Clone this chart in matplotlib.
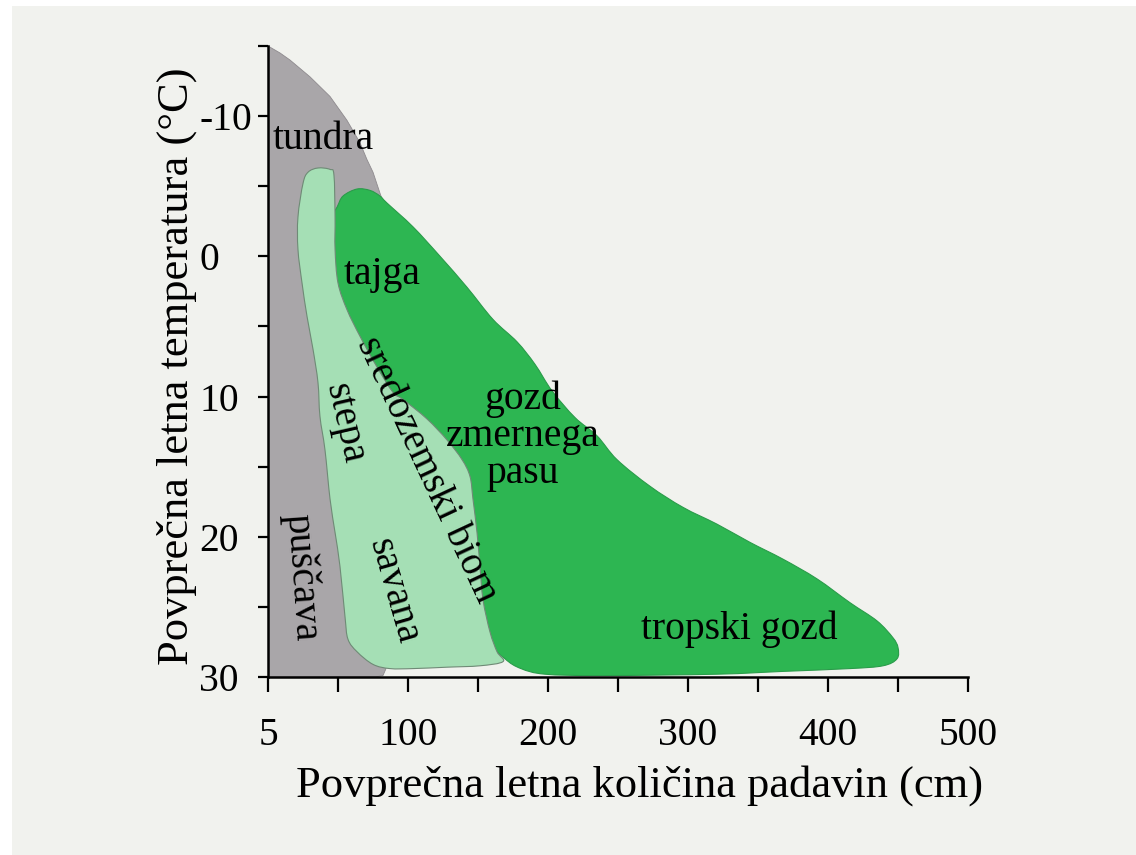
import matplotlib
matplotlib.use("Agg")
import matplotlib.pyplot as plt
from matplotlib.patches import Polygon, Rectangle, PathPatch
from matplotlib.path import Path

plt.rcParams['font.family'] = ['Liberation Serif', 'DejaVu Serif']

# obrisi biomov: padavine (cm), temperatura (°C)
siva_p = [0, 8.6, 15.7, 30.0, 44.3, 56.4, 65.7, 70.7, 75.0, 80.0, 84.3,
          65.7, 44.3, 51.4, 65.7, 80.0, 84.3, 82.1, 76.4, 0]
siva_t = [-15, -14.5, -14.0, -12.8, -11.4, -9.7, -8.1, -6.9, -6.0, -4.5, -3.3,
          0.2, 6.6, 17.3, 27.3, 28.6, 29.4, 29.9, 30, 30]

svetla_p = [21.4, 25.0, 28.6, 35.7, 44.3, 47.1, 47.9, 47.9, 50.0, 56.4, 65.7,
            77.9, 89.3, 96.4, 113.6, 127.9, 138.6, 144.3, 146.4, 149.3, 151.4,
            153.6, 158.6, 163.6, 167.9, 151.4, 127.9, 103.6, 87.1, 75.0, 63.6,
            57.1, 55.0, 51.4, 47.9, 44.3, 40.7, 37.1, 35.7, 32.1, 27.9, 24.3, 21.4]
svetla_t = [-2.8, -5.2, -6.0, -6.3, -6.2, -5.8, -2.8, -0.5, 1.9, 3.8, 5.7,
            7.9, 9.7, 10.2, 11.6, 13.1, 14.5, 15.7, 17.3, 19.7, 22.1,
            24.5, 26.8, 28.2, 28.9, 29.2, 29.3, 29.4, 29.4, 29.1, 28.2,
            27.3, 25.7, 22.1, 19.7, 17.3, 13.8, 11.4, 9.0, 6.6, 4.3, 1.9, -0.5]

temna_p = [49.3, 53.6, 63.6, 72.9, 80.0, 85.0, 103.6, 122.9, 142.1, 160.7, 177.9,
           190.7, 202.9, 219.3, 235.0, 249.3, 272.9, 296.4, 320.7, 344.3, 367.9,
           392.1, 415.7, 435.0, 446.4, 450.0, 449.3, 439.3, 415.7, 367.9, 320.7,
           237.1, 197.9, 180.7, 169.3, 157.1, 150.0, 142.9, 133.6, 108.6, 72.9,
           51.4, 44.3, 42.9]
temna_t = [-3.5, -4.3, -4.8, -4.7, -4.3, -3.8, -2.1, 0.0, 2.2, 4.5, 6.1,
           7.7, 9.6, 11.5, 12.8, 14.5, 16.4, 17.9, 19.1, 20.4, 21.6,
           23.0, 24.7, 26.0, 27.2, 27.9, 28.7, 29.2, 29.4, 29.6, 29.8,
           29.9, 29.8, 29.4, 28.7, 27.3, 23.7, 18.8, 15.2, 12.3, 8.4,
           4.5, 0.9, -2.2]

# napisi biomov
napisi = ['tundra', 'tajga', 'stepa', 'sredozemski biom', 'gozd\nzmernega\npasu',
          'puščava', 'savana', 'tropski gozd']
napisi_p = [39.6, 81.8, 55.0, 113.6, 182.0, 24.3, 89.3, 337.0]
napisi_t = [-8.3, 1.3, 11.9, 15.2, 12.8, 22.9, 23.9, 26.6]
napisi_rot = [0, 0, -77, -65, 0, -86, -74, 0]

x_ticks = [0, 100, 200, 300, 400, 500]
x_labels = ['5', '100', '200', '300', '400', '500']
x_minor = [50, 150, 250, 350, 450]
y_ticks = [-10, 0, 10, 20, 30]
y_labels = ['-10', '0', '10', '20', '30']
y_minor = [-15, -5, 5, 15, 25]


def gladek_obris(xs, ys):
    "Zaprta krivulja skozi tocke obrisa (Catmull-Rom kot Bezier)."
    pts = list(zip(xs, ys))
    n = len(pts)
    verts = [pts[0]]
    codes = [Path.MOVETO]
    for i in range(n):
        p0, p1 = pts[i - 1], pts[i]
        p2, p3 = pts[(i + 1) % n], pts[(i + 2) % n]
        c1 = (p1[0] + (p2[0] - p0[0]) / 6, p1[1] + (p2[1] - p0[1]) / 6)
        c2 = (p2[0] - (p3[0] - p1[0]) / 6, p2[1] - (p3[1] - p1[1]) / 6)
        verts += [c1, c2, p2]
        codes += [Path.CURVE4] * 3
    verts.append(pts[0])
    codes.append(Path.CLOSEPOLY)
    return Path(verts, codes)


fig = plt.figure(figsize=(11.36, 8.55), dpi=100, facecolor='white')
fig.patches.append(Rectangle((12 / 1136, 0), 1, 1 - 6 / 855, transform=fig.transFigure,
                             facecolor='#f1f2ee', edgecolor='none', zorder=-10))
ax = fig.add_axes([268 / 1136, 1 - 677 / 855, 700 / 1136, 631 / 855])
ax.patch.set_visible(False)

ax.add_patch(Polygon(list(zip(siva_p, siva_t)), closed=True, facecolor='#a9a6a9',
                     edgecolor='#8e8a8e', linewidth=0.6, zorder=1, joinstyle='round'))
ax.add_patch(PathPatch(gladek_obris(temna_p, temna_t), facecolor='#2db652',
                       edgecolor='#2a9c4a', linewidth=0.8, zorder=2))
ax.add_patch(PathPatch(gladek_obris(svetla_p, svetla_t), facecolor='#a5dfb5',
                       edgecolor='#6f8a76', linewidth=0.8, zorder=3))

for txt, p, t, r in zip(napisi, napisi_p, napisi_t, napisi_rot):
    ax.text(p, t, txt, rotation=r, ha='center', va='center', fontsize=28.5,
            color='black', zorder=5, linespacing=1.0)

ax.set_xlim(0, 500)
ax.set_ylim(30, -15)

ax.set_xticks(x_ticks)
ax.set_xticklabels(x_labels)
ax.set_xticks(x_minor, minor=True)
ax.set_yticks(y_ticks)
ax.set_yticklabels(y_labels)
ax.set_yticks(y_minor, minor=True)

for s in ['top', 'right']:
    ax.spines[s].set_visible(False)
for s in ['left', 'bottom']:
    ax.spines[s].set_linewidth(1.8)
    ax.spines[s].set_zorder(6)

ax.tick_params(axis='x', which='both', direction='out', length=11, width=1.6,
               labelsize=28.5, pad=18)
ax.tick_params(axis='y', which='both', direction='out', length=7.5, width=1.6,
               labelsize=28.5, pad=42)
for lbl in ax.get_yticklabels():
    lbl.set_horizontalalignment('left')

ax.set_xlabel('Povprečna letna količina padavin (cm)', fontsize=32)
ax.xaxis.set_label_coords((640 - 268) / 700, -0.140)
ax.set_ylabel('Povprečna letna temperatura (°C)', fontsize=32)
ax.yaxis.set_label_coords(-0.101, 0.493)

fig.savefig('out.png', dpi=100, facecolor=fig.get_facecolor())
plt.close(fig)
